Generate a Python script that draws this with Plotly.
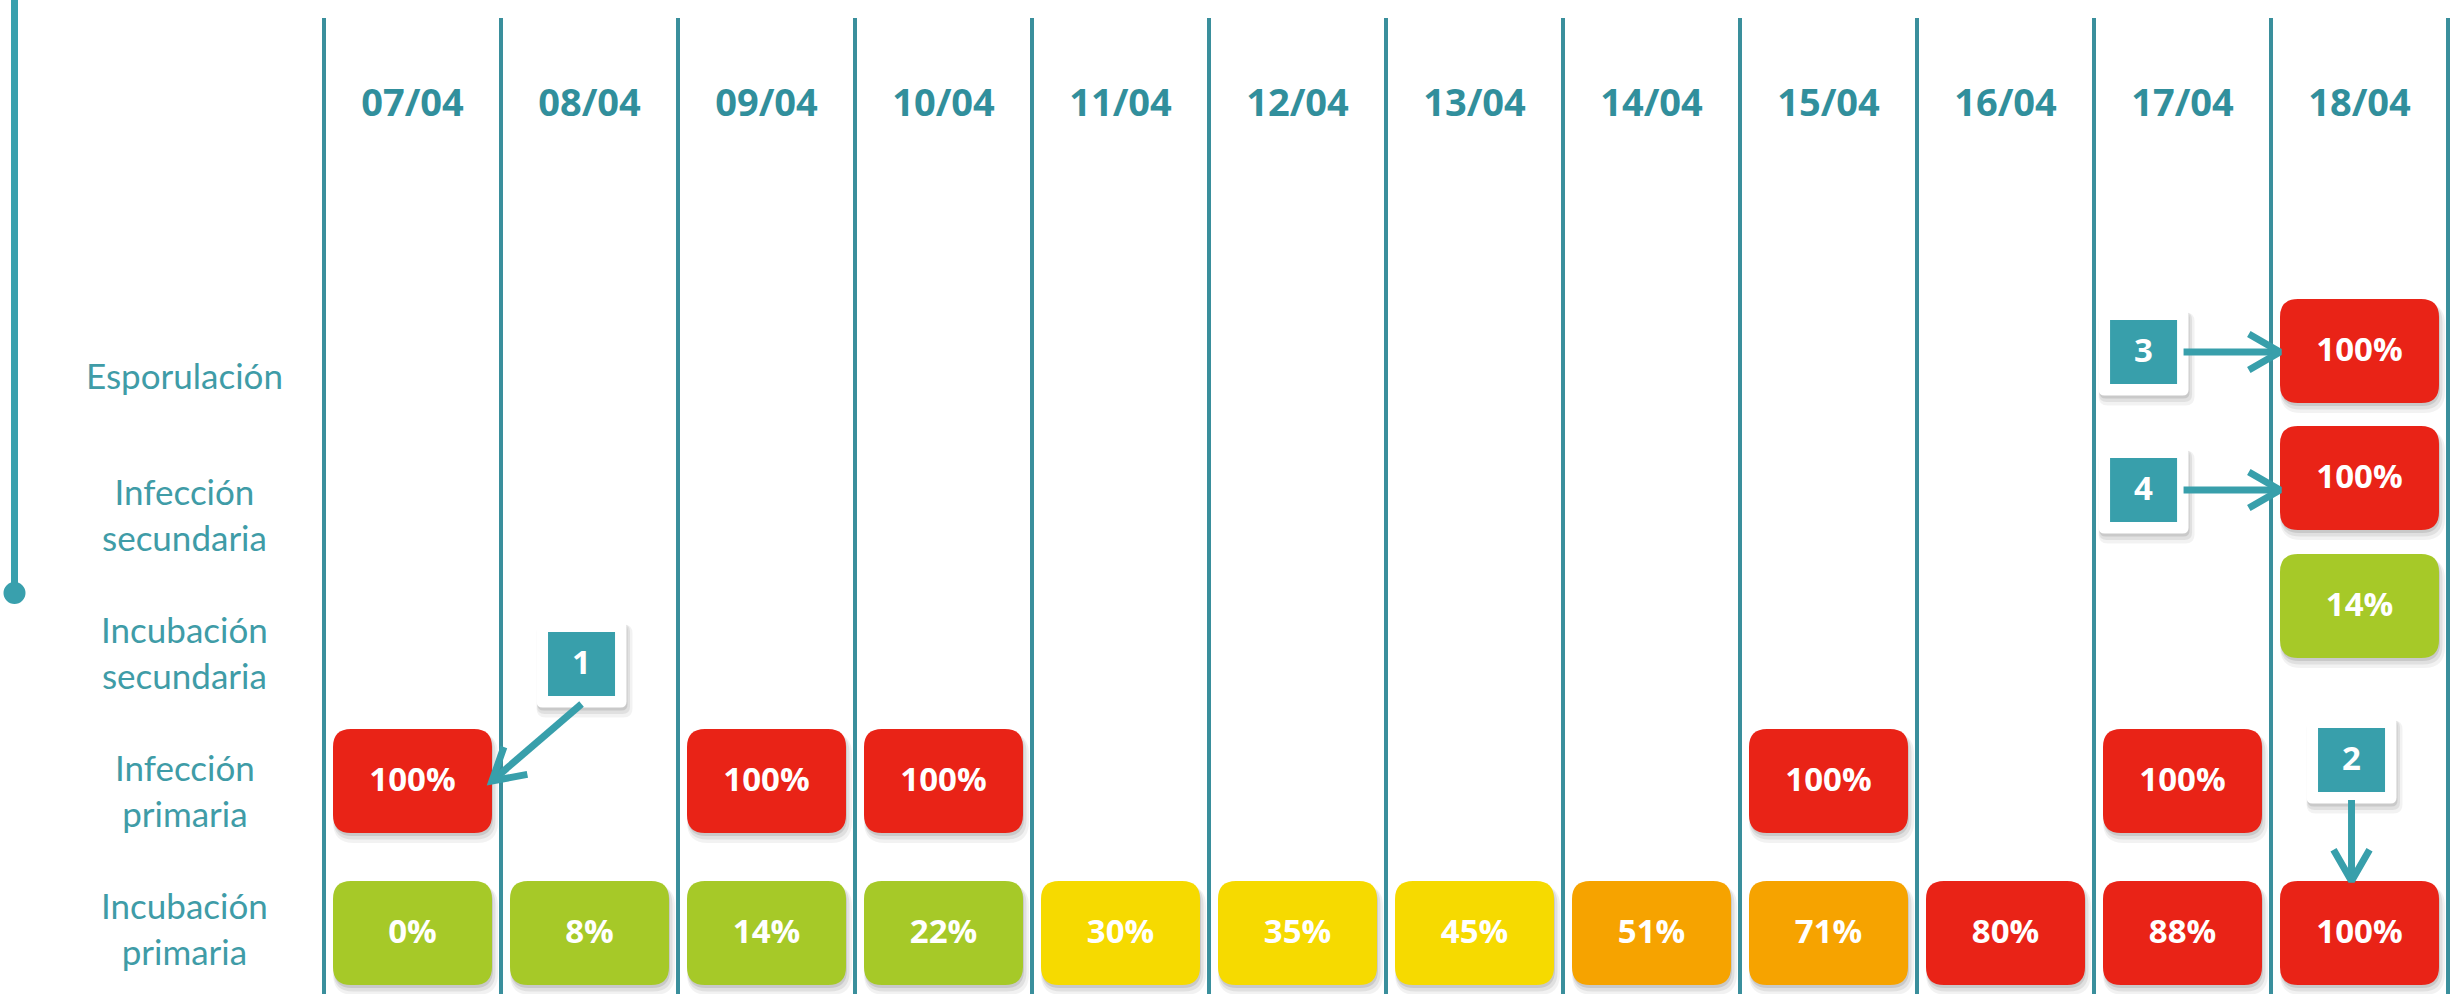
import math
import plotly.graph_objects as go

# ---------------- data ----------------
DATES = ["07/04", "08/04", "09/04", "10/04", "11/04", "12/04",
         "13/04", "14/04", "15/04", "16/04", "17/04", "18/04"]
ROW_NAMES = ["Incubación<br>primaria", "Infección<br>primaria",
             "Incubación<br>secundaria", "Infección<br>secundaria", "Esporulación"]
INCUB_PRIM = [0, 8, 14, 22, 30, 35, 45, 51, 71, 80, 88, 100]
INF_PRIM = [100, None, 100, 100, None, None, None, None, 100, None, 100, None]
INCUB_SEC = [None] * 11 + [14]
INF_SEC = [None] * 11 + [100]
ESPOR = [None] * 11 + [100]
SERIES = [INCUB_PRIM, INF_PRIM, INCUB_SEC, INF_SEC, ESPOR]

CALLOUT_NUMS = ["1", "2", "3", "4"]
CALLOUT_TARGET_COL = [0, 11, 11, 11]
CALLOUT_TARGET_ROW = [1, 0, 4, 3]

# ---------------- layout constants ----------------
W, H = 2460, 994
X_RANGE = [-2.3305, 11.5678]
PPX = W / (X_RANGE[1] - X_RANGE[0])          # pixels per column unit
Y_RANGE = [994, 0]                            # y axis expressed in px from top
LABEL_Y = [928, 790, 652, 514, 375]           # row label centres
BOX_Y = [933, 781, 606, 478, 351]             # box centres per row
BOX_W, BOX_H, BOX_R = 159, 104, 18
LABEL_X = -1.288
DATE_Y = 106
CALLOUT_X = [0.955, 10.955, 9.78, 9.78]
CALLOUT_Y = [664, 760, 352, 490]
CALLOUT_SIDE = ["bottom", "bottom", "right", "right"]

RED, ORANGE, YELLOW, GREEN = "#E92317", "#F6A300", "#F6DA00", "#A6C928"
TEAL_LINE = "#3A8F9C"
TEAL = "#389FAB"
DATE_COLOR = "#318F9C"
LABEL_COLOR = "#3F9CA7"


def level_color(v):
    if v >= 80:
        return RED
    if v >= 50:
        return ORANGE
    if v >= 30:
        return YELLOW
    return GREEN


def rrect(xc, yc, wpx, hpx, rpx):
    hw = wpx / 2 / PPX
    hh = hpx / 2
    rx = rpx / PPX
    ry = rpx
    x0, x1 = xc - hw, xc + hw
    y0, y1 = yc - hh, yc + hh
    if rpx <= 0:
        return f"M{x0},{y0} L{x1},{y0} L{x1},{y1} L{x0},{y1} Z"
    return (f"M{x0 + rx},{y0} L{x1 - rx},{y0} Q{x1},{y0} {x1},{y0 + ry} "
            f"L{x1},{y1 - ry} Q{x1},{y1} {x1 - rx},{y1} L{x0 + rx},{y1} "
            f"Q{x0},{y1} {x0},{y1 - ry} L{x0},{y0 + ry} Q{x0},{y0} {x0 + rx},{y0} Z")


shapes = []


def add_box(xc, yc, wpx, hpx, rpx, fill, shadow=True):
    if shadow:
        for dx, dy, grow, a in [(3, 7, 6, 0.05), (2, 5, 3, 0.07), (1, 3, 0, 0.10)]:
            shapes.append(dict(type="path", layer="below",
                               path=rrect(xc + dx / PPX, yc + dy, wpx + grow, hpx + grow, rpx + grow / 2),
                               fillcolor=f"rgba(0,0,0,{a})", line=dict(width=0)))
    shapes.append(dict(type="path", layer="below", path=rrect(xc, yc, wpx, hpx, rpx),
                       fillcolor=fill, line=dict(width=0)))


# column lines
for i in range(len(DATES) + 1):
    shapes.append(dict(type="line", layer="below", x0=i - 0.5, x1=i - 0.5, y0=18, y1=994,
                       line=dict(color=TEAL_LINE, width=4)))

# left timeline line + dot
LEFT_X = -2.2486
shapes.append(dict(type="line", layer="below", x0=LEFT_X, x1=LEFT_X, y0=0, y1=593,
                   line=dict(color="#39A0AD", width=7)))
shapes.append(dict(type="circle", layer="below", x0=LEFT_X - 11 / PPX, x1=LEFT_X + 11 / PPX,
                   y0=582, y1=604, fillcolor="#39A0AD", line=dict(width=0)))

fig = go.Figure()

# boxes
for r, series in enumerate(SERIES):
    xs, ys, ts = [], [], []
    for c, v in enumerate(series):
        if v is None:
            continue
        add_box(c, BOX_Y[r], BOX_W, BOX_H, BOX_R, level_color(v))
        xs.append(c)
        ys.append(BOX_Y[r] + 2)
        ts.append(f"<b>{v}%</b>")
    fig.add_trace(go.Scatter(x=xs, y=ys, text=ts, mode="text", hoverinfo="skip",
                             textfont=dict(family="Open Sans", size=33, color="white"),
                             cliponaxis=False))

# callouts
arrow_x, arrow_y = [], []
for k, num in enumerate(CALLOUT_NUMS):
    cx, cy = CALLOUT_X[k], CALLOUT_Y[k]
    add_box(cx, cy, 90, 87, 6, "white")
    shapes.append(dict(type="path", layer="below", path=rrect(cx, cy, 67, 64, 0),
                       fillcolor=TEAL, line=dict(width=0)))
    tc, tr = CALLOUT_TARGET_COL[k], CALLOUT_TARGET_ROW[k]
    # start / tip in pixel space (x in px relative to column 0 centre)
    if CALLOUT_SIDE[k] == "bottom":
        sx, sy = cx * PPX, cy + 40
    else:
        sx, sy = cx * PPX + 40, cy
    bx, by = tc * PPX, BOX_Y[tr]
    if CALLOUT_SIDE[k] == "right":
        ex, ey = bx - BOX_W / 2, sy
    elif tc < cx:
        ex, ey = bx + BOX_W / 2, by
    else:
        ex, ey = sx, by - BOX_H / 2
    ang = math.atan2(ey - sy, ex - sx)
    L, half = 36, math.radians(30)
    a1 = (ex - L * math.cos(ang - half), ey - L * math.sin(ang - half))
    a2 = (ex - L * math.cos(ang + half), ey - L * math.sin(ang + half))
    pts = [(sx, sy), (ex, ey), None, a1, (ex, ey), a2, None]
    for p in pts:
        if p is None:
            arrow_x.append(None)
            arrow_y.append(None)
        else:
            arrow_x.append(p[0] / PPX)
            arrow_y.append(p[1])

fig.add_trace(go.Scatter(x=arrow_x, y=arrow_y, mode="lines", hoverinfo="skip",
                         line=dict(color=TEAL, width=7), cliponaxis=False))

fig.add_trace(go.Scatter(x=CALLOUT_X, y=[y + 2 for y in CALLOUT_Y],
                         text=[f"<b>{n}</b>" for n in CALLOUT_NUMS], mode="text",
                         hoverinfo="skip", cliponaxis=False,
                         textfont=dict(family="Open Sans", size=33, color="white")))

# date headers
fig.add_trace(go.Scatter(x=list(range(len(DATES))), y=[DATE_Y] * len(DATES),
                         text=[f"<b>{d}</b>" for d in DATES], mode="text",
                         hoverinfo="skip", cliponaxis=False,
                         textfont=dict(family="Open Sans", size=38, color=DATE_COLOR)))

annotations = []
for r, name in enumerate(ROW_NAMES):
    annotations.append(dict(x=LABEL_X, y=LABEL_Y[r], text=name, showarrow=False,
                            xanchor="center", yanchor="middle", align="center",
                            font=dict(family="Lato", size=35, color=LABEL_COLOR)))

fig.update_layout(
    width=W, height=H,
    margin=dict(l=0, r=0, t=0, b=0),
    paper_bgcolor="white", plot_bgcolor="white",
    showlegend=False,
    xaxis=dict(range=X_RANGE, visible=False, fixedrange=True),
    yaxis=dict(range=Y_RANGE, visible=False, fixedrange=True),
    shapes=shapes,
    annotations=annotations,
)

fig.write_html("out.html",
               config={"displayModeBar": False},
               post_script="document.body.style.margin='0px';document.body.style.overflow='hidden';")
